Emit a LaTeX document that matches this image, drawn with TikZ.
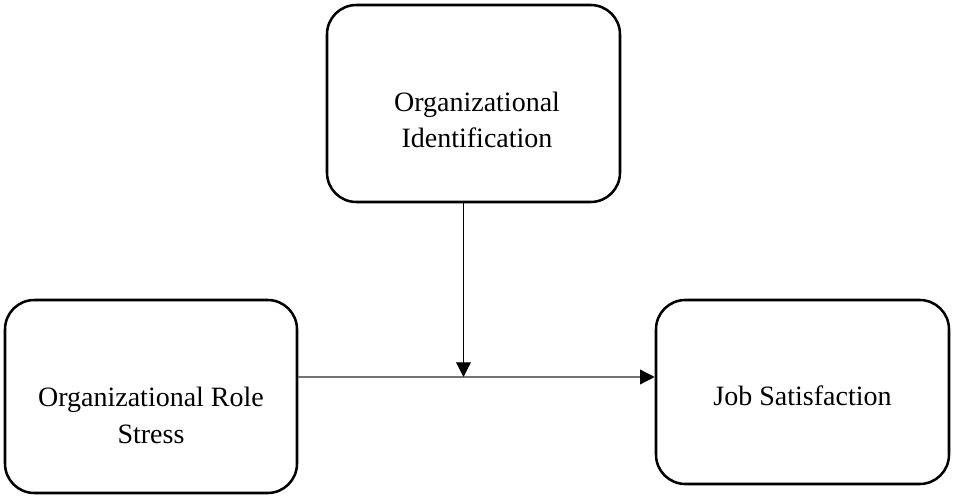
\documentclass[tikz,border=0pt]{standalone}
\usepackage{fontspec}
\setmainfont{Liberation Serif}
\usetikzlibrary{arrows.meta}
\begin{document}
\begin{tikzpicture}[x=0.75pt,y=-0.75pt,
  varbox/.style={draw=black, line width=1.9pt, rounded corners=22pt, fill=white, inner sep=0pt},
  boxtext/.style={font=\fontsize{21pt}{27.4pt}\selectfont, align=center, inner sep=0pt, anchor=base},
  link/.style={line width=1pt, -{Triangle[length=11pt,width=11pt,fill=black,color=black]}}]
\useasboundingbox[fill=white] (0,0) rectangle (957,502);
% boxes
\node[varbox, minimum width=219.75pt, minimum height=147.75pt] (oi) at (473.5,103.5) {};
\node[varbox, minimum width=219pt, minimum height=144.75pt] (ors) at (151,396.5) {};
\node[varbox, minimum width=219.75pt, minimum height=138pt] (js) at (802.5,392) {};
% texts
\node[boxtext] (oitext) at (477,148) {Organizational\\Identification};
\node[boxtext] (orstext) at (151,443) {Organizational Role\\Stress};
\node[boxtext] (jstext) at (802.5,405) {Job Satisfaction};
% connectors
\coordinate (junc) at (463.5,377);
\draw[link, draw=black!55] (ors.east |- junc) -- (js.west |- junc);
\draw[link, line width=0.9pt] (junc |- oi.south) -- (junc);
\end{tikzpicture}
\end{document}
